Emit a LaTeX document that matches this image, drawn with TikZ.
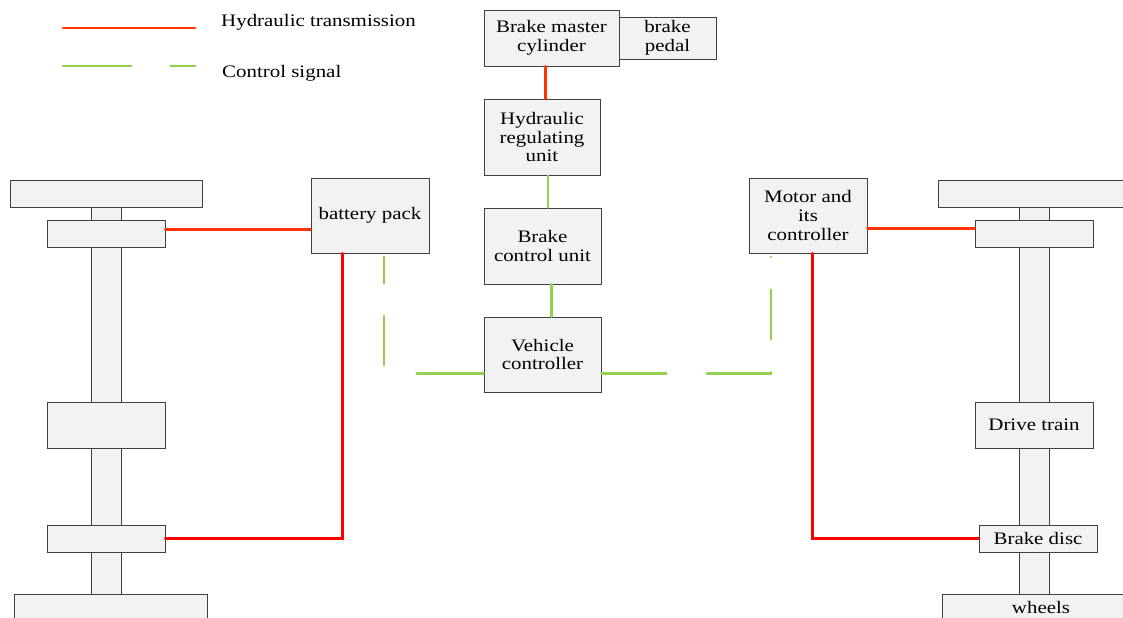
\documentclass[tikz,border=0pt]{standalone}
\usepackage{fontspec}
\setmainfont{Liberation Serif}[FakeStretch=1.19]
\usetikzlibrary{positioning}
\definecolor{hydred}{RGB}{255,51,0}
\definecolor{pipered}{RGB}{255,0,0}
\definecolor{ctrlgreen}{RGB}{146,208,80}
\definecolor{boxfill}{RGB}{242,242,242}
\tikzset{
  unit/.style={draw=black!75, fill=boxfill, line width=0.8pt, inner sep=1pt,
    align=center, font=\fontsize{15}{16}\selectfont},
  shaft/.style={draw=black!75, fill=boxfill, line width=0.8pt},
  hydro/.style={draw=hydred, line width=2.5pt, line cap=round},
  pipe/.style={draw=pipered, line width=2.5pt, line cap=round},
  ctrl/.style={draw=ctrlgreen, line width=2.5pt, line cap=round, dash pattern=on 58pt off 34pt},
  legendtext/.style={anchor=west, inner sep=0pt, font=\fontsize{15}{16}\selectfont},
}
\begin{document}
\begin{tikzpicture}[x=0.03cm, y=-0.03cm]
  \useasboundingbox (0,0) rectangle (1123,617);
  % legend
  \coordinate (hydA) at (63,28);
  \coordinate (hydB) at (195,28);
  \coordinate (ctrlA) at (63,66);
  \coordinate (ctrlB) at (195,66);
  \node[legendtext] (hydtext) at (221,22) {Hydraulic transmission};
  \node[legendtext] (ctrltext) at (222,73) {Control signal};
  \draw[hydro] (hydA) -- (hydB);
  \draw[ctrl] (ctrlA) -- (ctrlB);
  % shafts
  \draw[shaft] (91,207) rectangle (121,594);
  \draw[shaft] (1019,207) rectangle (1049,594);
  % left axle
  \node[unit, minimum width=5.76cm, minimum height=0.81cm] (ltop) at (106,193.5) {};
  \node[unit, minimum width=3.54cm, minimum height=0.81cm] (lhubA) at (106,233.5) {};
  \node[unit, minimum width=3.54cm, minimum height=1.38cm] (lmid) at (106,425) {};
  \node[unit, minimum width=3.54cm, minimum height=0.81cm] (lhubB) at (106,538.5) {};
  \node[unit, minimum width=5.79cm, minimum height=0.81cm] (lwheel) at (110.5,607.5) {};
  % right axle
  \node[unit, minimum width=6.06cm, minimum height=0.81cm] (rtop) at (1039,193.5) {};
  \node[unit, minimum width=3.54cm, minimum height=0.81cm] (rhub) at (1034,233.5) {};
  \node[unit, minimum width=3.54cm, minimum height=1.38cm] (drive) at (1034,425) {Drive train};
  \node[unit, minimum width=3.54cm, minimum height=0.81cm] (disc) at (1038,538.5) {Brake disc};
  \node[unit, minimum width=5.94cm, minimum height=0.81cm] (wheels) at (1041,607.5) {wheels};
  % middle column
  \node[unit, minimum width=4.05cm, minimum height=1.68cm] (master) at (551.5,38) {Brake master\\cylinder};
  \node[unit, minimum width=2.91cm, minimum height=1.26cm] (pedal) at (667.5,38) {brake\\pedal};
  \node[unit, minimum width=3.48cm, minimum height=2.28cm] (hru) at (542,137) {Hydraulic\\regulating\\unit};
  \node[unit, minimum width=3.51cm, minimum height=2.28cm] (bcu) at (542.5,246) {Brake\\control unit};
  \node[unit, minimum width=3.51cm, minimum height=2.25cm] (vc) at (542.5,354.5) {Vehicle\\controller};
  \node[unit, minimum width=3.54cm, minimum height=2.25cm] (battery) at (370,215.5) {battery pack};
  \node[unit, minimum width=3.54cm, minimum height=2.25cm] (motor) at (808,215.5) {Motor and\\its\\controller};
  % hydraulic lines
  \draw[hydro] ([xshift=-0.17cm]master.south) -- ([xshift=-0.17cm]master.south |- hru.north);
  \draw[hydro] ([yshift=0.13cm]lhubA.east) -- ([yshift=0.13cm]lhubA.east -| battery.west);
  \draw[hydro] ([yshift=-0.4cm]motor.east) -- ([yshift=-0.4cm]motor.east -| rhub.west);
  \draw[pipe] ([xshift=0.96cm]battery.south west) |- (lhubB.east);
  \draw[pipe] ([xshift=1.92cm]motor.south west) |- (disc.west);
  % control lines
  \draw[ctrl] ([xshift=0.18cm]hru.south) -- ([xshift=0.18cm]hru.south |- bcu.north);
  \draw[ctrl] ([xshift=0.26cm]bcu.south) -- ([xshift=0.26cm]bcu.south |- vc.north);
  \draw[ctrl, dash pattern=on 57pt off 34.8pt on 41.7pt off 28pt on 23pt off 40pt]
    ([yshift=-0.56cm]vc.west) -| ([xshift=0.42cm]battery.south);
  \draw[ctrl, dash pattern=on 55.3pt off 34.8pt on 55.3pt off 28pt on 42.5pt off 28pt on 0.1pt off 40pt]
    ([yshift=-0.56cm]vc.east) -| ([xshift=-1.11cm]motor.south);
\end{tikzpicture}
\end{document}
